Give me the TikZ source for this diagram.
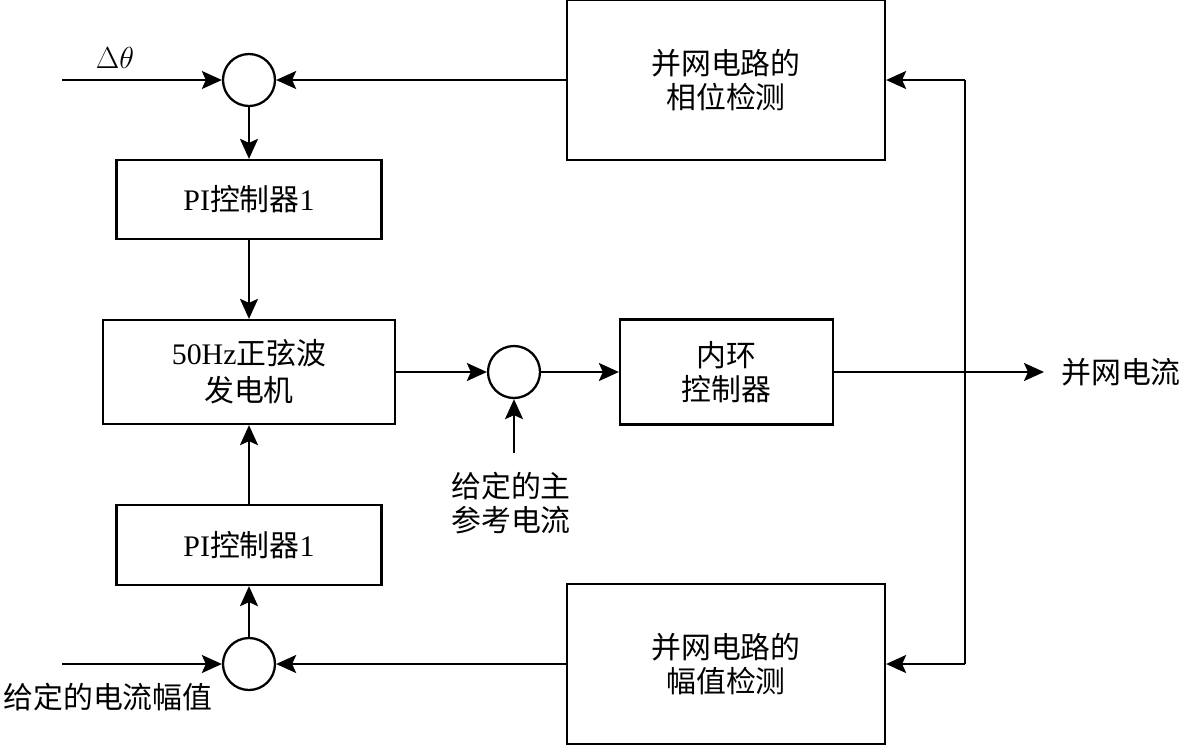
\documentclass[tikz,border=0pt]{standalone}
\usepackage{fontspec}
\setmainfont{Liberation Serif}
\newfontfamily\cjk{Noto Sans CJK SC}
\usetikzlibrary{arrows.meta,calc}

\tikzset{
  blk/.style={draw,line width=1.3pt,align=center,inner sep=0pt},
  sumpt/.style={draw,circle,line width=1.3pt,minimum size=1.04cm,inner sep=0pt},
  sig/.style={line width=1.3pt,-{Stealth[length=4mm,width=3.6mm,inset=0.8mm]}},
}

\begin{document}
\begin{tikzpicture}[x=0.02cm,y=-0.02cm,line width=1.3pt,font=\fontsize{17}{19}\cjk]
	\useasboundingbox (0,0) rectangle (1183,745);
	% blocks
	\node[blk,minimum width=6.36cm,minimum height=3.2cm] (pha) at (726,80) {并网电路的\\相位检测};
	\node[blk,minimum width=5.3cm,minimum height=1.58cm] (pi1) at (249,199.5) {{\rmfamily PI}控制器{\rmfamily 1}};
	\node[blk,minimum width=5.84cm,minimum height=2.08cm] (gen) at (249,372) {{\rmfamily 50Hz}正弦波\\[2pt]发电机};
	\node[blk,minimum width=4.26cm,minimum height=2.1cm] (inner) at (726.5,372) {内环\\控制器};
	\node[blk,minimum width=5.3cm,minimum height=1.6cm] (pi2) at (249,545) {{\rmfamily PI}控制器{\rmfamily 1}};
	\node[blk,minimum width=6.36cm,minimum height=3.2cm] (amp) at (726,664) {并网电路的\\幅值检测};
	% summing points
	\node[sumpt] (sum1) at (249,80) {};
	\node[sumpt] (sum2) at (514,372) {};
	\node[sumpt] (sum3) at (249,664) {};
	% free ends
	\coordinate (in1) at (62,80);
	\coordinate (in3) at (62,664);
	\coordinate (ref) at (514,453);
	\coordinate (out) at (1044,372);
	\coordinate (bus) at (965,372);
	% labels
	\node (dth) at (115,58) {\fontsize{19}{20}\selectfont$\Delta\theta$};
	\node (iref) at (108,697) {给定的电流幅值};
	\node[align=center] (mref) at (511,503) {给定的主\\参考电流};
	\node (iout) at (1121,372) {并网电流};
	% signals
	\draw[sig] (in1) -- (sum1);
	\draw[sig] (pha) -- (sum1);
	\draw[sig] (sum1) -- (pi1);
	\draw[sig] (pi1) -- (gen);
	\draw[sig] (pi2) -- (gen);
	\draw[sig] (sum3) -- (pi2);
	\draw[sig] (in3) -- (sum3);
	\draw[sig] (amp) -- (sum3);
	\draw[sig] (gen) -- (sum2);
	\draw[sig] (ref) -- (sum2);
	\draw[sig] (sum2) -- (inner);
	\draw[sig] (inner) -- (out);
	\draw (bus |- pha.east) -- (bus |- amp.east);
	\draw[sig] (bus |- pha.east) -- (pha.east);
	\draw[sig] (bus |- amp.east) -- (amp.east);
\end{tikzpicture}
\end{document}
